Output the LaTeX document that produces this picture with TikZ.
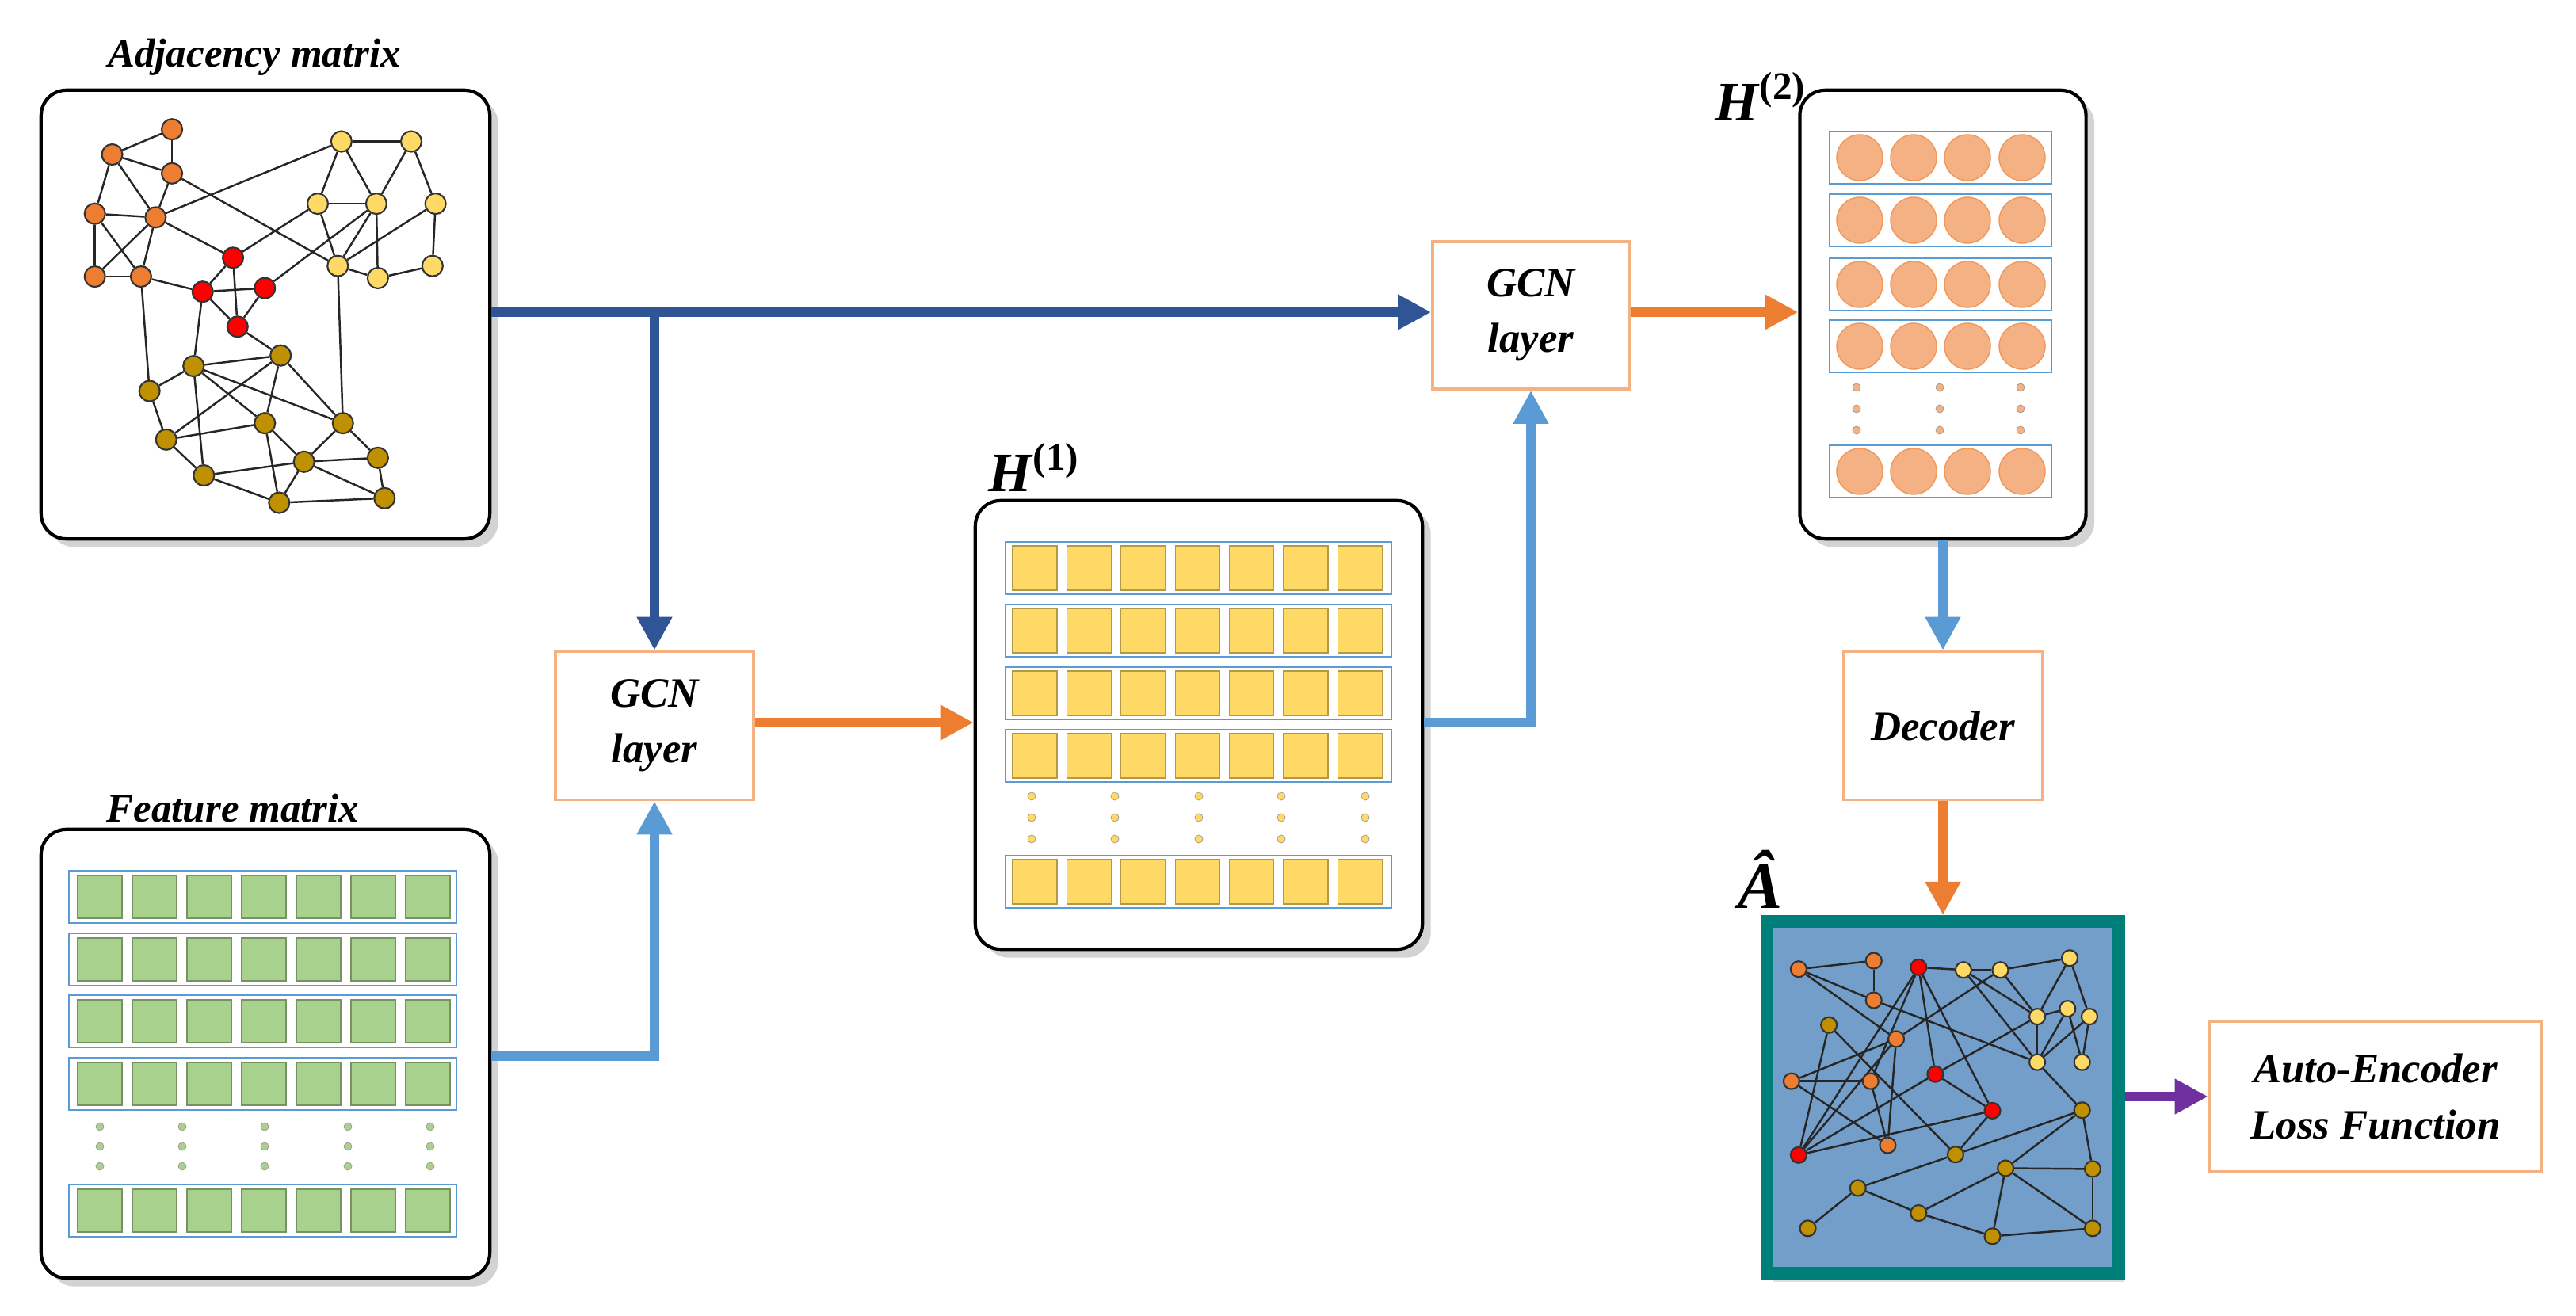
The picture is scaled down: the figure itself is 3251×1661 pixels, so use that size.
\documentclass[tikz,border=0pt]{standalone}
\usepackage{fontspec}
\setmainfont{Liberation Serif}
\usetikzlibrary{arrows.meta,shadows,backgrounds}
\definecolor{dblue}{HTML}{2F5597}
\definecolor{lblue}{HTML}{5B9BD5}
\definecolor{orng}{HTML}{ED7D31}
\definecolor{purp}{HTML}{7030A0}
\definecolor{gcnb}{HTML}{F4B183}
\definecolor{nO}{HTML}{ED7D31}
\definecolor{nR}{HTML}{FF0000}
\definecolor{nY}{HTML}{FFD966}
\definecolor{nG}{HTML}{BF9000}
\definecolor{cgreen}{HTML}{A9D18E}
\definecolor{cyel}{HTML}{FFD966}
\definecolor{csal}{HTML}{F4B183}
\definecolor{teal}{HTML}{007F7A}
\definecolor{afill}{HTML}{739EC9}
\pgfdeclarelayer{edges}
\pgfsetlayers{background,main,edges,nodes}
\pgfdeclarelayer{nodes}
\pgfsetlayers{background,main,edges,nodes}
\begin{document}
\begin{tikzpicture}[x=0.01cm,y=-0.01cm,
  rbox/.style={draw=black,line width=1.2pt,rounded corners=0.32cm,fill=white,drop shadow={opacity=0.35,shadow xshift=3pt,shadow yshift=-3pt}},
  gcn/.style={draw=gcnb,line width=1pt,fill=white,align=center,font=\fontsize{15}{20}\selectfont\bfseries\itshape},
  title/.style={font=\fontsize{14.5}{16}\selectfont\bfseries\itshape},
  arr/.style={line width=3.4pt,-{Triangle[length=0.42cm,width=0.42cm]}},
  gn/.style={circle,draw=black!80,line width=0.6pt,minimum size=0.26cm,inner sep=0pt},
  gm/.style={circle,draw=black!80,line width=0.6pt,minimum size=0.2cm,inner sep=0pt},
  row/.style={draw=lblue,line width=0.8pt},
  dot/.style={circle,fill=#1,draw=black!40,line width=0.2pt,minimum size=0.1cm,inner sep=0pt}
]
\useasboundingbox (0,0) rectangle (3251,1661);
% boxes
\node[rbox,minimum width=5.66cm,minimum height=5.66cm] (adj) at (335,397) {};
\node[title] (adjt) at (321,72) {Adjacency matrix};
\node[rbox,minimum width=5.66cm,minimum height=5.66cm] (feat) at (335,1330) {};
\node[title] (featt) at (294,1020) {Feature matrix};
\node[rbox,minimum width=5.64cm,minimum height=5.66cm] (h1) at (1513,915) {};
\node[font=\fontsize{20}{22}\selectfont] (h1t) at (1305,590) {\textbf{\textit{H}}\textsuperscript{\textbf{(1)}}};
\node[rbox,minimum width=3.61cm,minimum height=5.66cm] (h2) at (2452,397) {};
\node[font=\fontsize{20}{22}\selectfont] (h2t) at (2222,122) {\textbf{\textit{H}}\textsuperscript{\textbf{(2)}}};
\node[gcn,minimum width=2.5cm,minimum height=1.87cm] (g1) at (826,916) {GCN\\layer};
\node[gcn,minimum width=2.48cm,minimum height=1.86cm] (g2) at (1932,398) {GCN\\layer};
\node[gcn,minimum width=2.51cm,minimum height=1.87cm] (dec) at (2452,916) {Decoder};
\node[gcn,minimum width=4.19cm,minimum height=1.89cm] (loss) at (2998,1384) {Auto-Encoder\\Loss Function};
\node[draw=teal,line width=4.5pt,fill=afill,minimum width=4.44cm,minimum height=4.44cm,inner sep=0pt,drop shadow={opacity=0.25,shadow xshift=2pt,shadow yshift=-3pt}] (ah) at (2452,1385) {};
\node[font=\fontsize{24}{26}\selectfont\bfseries\itshape] (aht) at (2222,1110) {\^{A}};
% feature rows
\foreach \y in {1132,1211,1289,1368,1528}{
  \draw[row] (87,\y-33) rectangle (576,\y+33);
  \foreach \i in {0,...,6}{\fill[cgreen,draw=cgreen!70!black,line width=0.3pt] (126+\i*69-28,\y-27) rectangle (126+\i*69+28,\y+27);}}
\foreach \x in {126,230,334,439,543}{\foreach \y in {1422,1447,1472}{\node[dot=cgreen] at (\x,\y) {};}}
% H1 rows
\foreach \y in {717,796,875,954,1113}{
  \draw[row] (1269,\y-33) rectangle (1756,\y+33);
  \foreach \i in {0,...,6}{\fill[cyel,draw=cyel!70!black,line width=0.3pt] (1306+\i*68.4-28,\y-28) rectangle (1306+\i*68.4+28,\y+28);}}
\foreach \x in {1302,1407,1513,1617,1723}{\foreach \y in {1005,1032,1059}{\node[dot=cyel] at (\x,\y) {};}}
% H2 rows
\foreach \y in {199,278,359,437,595}{
  \draw[row] (2309,\y-33) rectangle (2589,\y+33);
  \foreach \x in {2347,2415,2483,2552}{\fill[csal,draw=orng!80,line width=0.4pt] (\x,\y) circle (0.29cm);}}
\foreach \x in {2343,2448,2550}{\foreach \y in {489,516,543}{\node[dot=csal] at (\x,\y) {};}}
% adjacency graph
\begin{pgfonlayer}{nodes}
\begin{scope}[shift={(40,100)},x=0.003827cm,y=-0.003827cm]
\foreach \n/\c/\x/\y in {O1/nO/462/165,O2/nO/265/248,O3/nO/462/310,O4/nO/208/443,O5/nO/408/455,O6/nO/208/650,O7/nO/360/650,
 R1/nR/663/588,R2/nR/563/700,R3/nR/768/688,R4/nR/678/815,
 Y1/nY/1020/205,Y2/nY/1250/205,Y3/nY/942/410,Y4/nY/1135/410,Y5/nY/1330/410,Y6/nY/1008/615,Y7/nY/1140/655,Y8/nY/1320/615,
 G1/nG/820/910,G2/nG/533/945,G3/nG/388/1027,G4/nG/768/1133,G5/nG/1025/1133,G6/nG/443/1187,G7/nG/897/1260,G8/nG/1140/1247,G9/nG/567/1305,G10/nG/815/1395,G11/nG/1162/1380}
 {\node[gn,fill=\c] (\n) at (\x,\y) {};}
\end{scope}
\begin{scope}[shift={(2200,1140)},x=0.003333cm,y=-0.003333cm]
\foreach \n/\c/\x/\y in {a/nO/210/250,b/nO/495/218,c/nO/495/368,d/nG/325/462,e/nO/580/515,f/nO/183/675,g/nO/483/675,h/nO/548/918,i/nR/210/955,j/nR/665/243,k/nR/728/648,l/nR/945/787,
 m/nY/835/253,n/nY/975/253,o/nY/1238/208,p/nY/1115/430,q/nY/1230/400,r/nY/1313/430,s/nY/1115/603,t/nY/1285/603,
 u/nG/1285/785,v/nG/805/953,w/nG/995/1005,x/nG/1325/1008,y/nG/435/1080,z/nG/665/1175,A/nG/245/1233,B/nG/945/1263,C/nG/1325/1233}
 {\node[gm,fill=\c] (h\n) at (\x,\y) {};}
\end{scope}
\end{pgfonlayer}
\begin{pgfonlayer}{edges}
\begin{scope}[line width=0.7pt,black!85]
\foreach \a/\b in {O1/O2,O1/O3,O2/O3,O2/O4,O2/O5,O3/O5,O3/Y6,O4/O5,O4/O6,O4/O7,O5/O6,O5/O7,O5/Y1,O5/R1,O6/O7,O7/R2,O7/G3,
 R1/R2,R1/R4,R1/Y3,R2/R3,R2/R4,R2/G2,R3/R4,R3/Y4,R4/G1,
 Y1/Y2,Y1/Y3,Y1/Y4,Y2/Y4,Y2/Y5,Y3/Y4,Y3/Y6,Y4/Y6,Y4/Y7,Y5/Y6,Y5/Y8,Y6/Y7,Y7/Y8,Y6/G5,
 G1/G2,G1/G6,G1/G4,G1/G5,G2/G3,G2/G4,G2/G5,G2/G9,G3/G6,G6/G4,G6/G9,G4/G7,G4/G10,G5/G7,G5/G8,G7/G8,G7/G9,G7/G10,G7/G11,G8/G11,G9/G10,G10/G11}
 {\draw (\a) -- (\b);}
\foreach \a/\b in {a/b,b/c,a/c,a/e,c/s,d/i,d/v,e/f,e/h,e/n,e/i,f/g,f/h,g/h,g/j,j/i,j/m,j/k,j/l,i/k,i/l,k/l,k/p,l/v,m/n,n/o,m/p,m/s,n/p,o/p,o/r,p/q,p/s,q/s,q/t,r/t,r/s,s/u,u/v,u/w,u/x,v/y,y/z,y/A,z/w,z/B,w/x,w/B,w/C,x/C,B/C}
 {\draw (h\a) -- (h\b);}
\end{scope}
\end{pgfonlayer}
% arrows
\coordinate (j1) at (826,394);
\coordinate (j2) at (826,1333);
\coordinate (j3) at (1932,912);
\draw[arr,dblue] (adj.east|-j1) -- (g2.west|-j1);
\draw[arr,dblue] (j1) -- (g1.north);
\draw[arr,lblue] (feat.east|-j2) -- (j2) -- (g1.south);
\draw[arr,orng] (g1.east|-j3) -- (h1.west|-j3);
\draw[arr,lblue] (h1.east|-j3) -- (j3) -- (g2.south);
\draw[arr,orng] (g2.east|-j1) -- (h2.west|-j1);
\draw[arr,lblue] (h2.south) -- (dec.north);
\draw[arr,orng] (dec.south) -- (ah.north);
\draw[arr,purp] (ah.east|-loss.west) -- (loss.west);
\end{tikzpicture}
\end{document}
